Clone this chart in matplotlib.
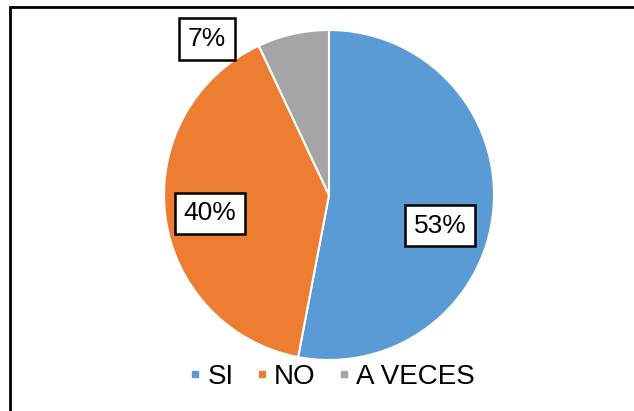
import numpy as np
import matplotlib
matplotlib.use("Agg")
import matplotlib.pyplot as plt
from matplotlib.lines import Line2D
from matplotlib.patches import Rectangle

plt.rcParams['font.family'] = ['Liberation Sans', 'DejaVu Sans']

categories = ["SI", "NO", "A VECES"]
values = [53, 40, 7]
colors = ["#5B9BD5", "#ED7D31", "#A5A5A5"]

# label placement: (radius factor, angle shift in degrees) per slice
label_pos = [(0.70, -10.0), (0.73, 1.5), (1.20, 25.5)]

fig = plt.figure(figsize=(6.34, 4.11), dpi=100)
W, H = 634, 411
cx, cy, r = 329, 195, 165
ax = fig.add_axes([(cx - r) / W, (H - cy - r) / H, 2 * r / W, 2 * r / H])

wedges, _ = ax.pie(values, colors=colors, startangle=90, counterclock=False,
                   wedgeprops=dict(edgecolor="white", linewidth=1.5))
ax.set_xlim(-1, 1)
ax.set_ylim(-1, 1)
ax.set_aspect("equal")

total = sum(values)
for w, v, (rf, shift) in zip(wedges, values, label_pos):
    mid = np.deg2rad((w.theta1 + w.theta2) / 2 + shift)
    x, y = rf * np.cos(mid), rf * np.sin(mid)
    ax.text(x, y, f"{round(100 * v / total)}%", ha="center", va="center",
            fontsize=19, color="black", clip_on=False,
            bbox=dict(boxstyle="square,pad=0.33", fc="white", ec="black", lw=1.8))

handles = [Line2D([], [], marker="s", linestyle="none", markersize=5,
                  markerfacecolor=c, markeredgecolor=c) for c in colors]
fig.legend(handles, categories, loc="center", bbox_to_anchor=(333 / W, 1 - 377 / H),
           ncol=3, frameon=False, fontsize=20, handlelength=0.3,
           handletextpad=0.3, columnspacing=0.85, borderpad=0, borderaxespad=0)

# outer frame (right/bottom sides fall outside the image)
fig.patches.append(Rectangle((10 / W, -0.1), 1.2, 1.1 - 7 / H, transform=fig.transFigure,
                             fill=False, ec="black", lw=2, zorder=10))

fig.savefig("out.png", dpi=100)
